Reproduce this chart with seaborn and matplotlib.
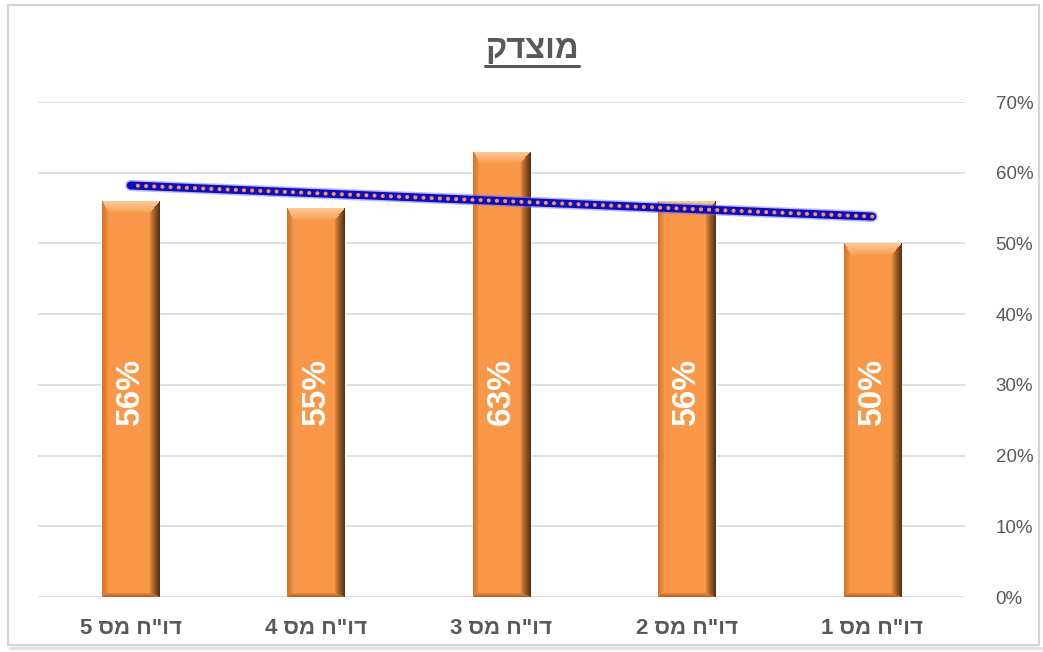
import numpy as np
import pandas as pd
import matplotlib
matplotlib.use("Agg")
import matplotlib.pyplot as plt
from matplotlib.patches import Rectangle
from matplotlib.lines import Line2D
import seaborn as sns

# ---- data -------------------------------------------------------------
title = "מוצדק"
reports = ['דו"ח מס 1', 'דו"ח מס 2', 'דו"ח מס 3', 'דו"ח מס 4', 'דו"ח מס 5']
report_no = [1, 2, 3, 4, 5]
share = [0.50, 0.56, 0.63, 0.55, 0.56]
y_ticks = [0.0, 0.1, 0.2, 0.3, 0.4, 0.5, 0.6, 0.7]


def visual(s):
    """Hebrew is written right-to-left; matplotlib lays glyphs out left-to-right."""
    return s[::-1]


df = pd.DataFrame({"report": [visual(r) for r in reports], "share": share})
# category axis runs right-to-left: report 1 on the right
order = [visual(r) for r in reports[::-1]]

sns.set_style("white")
plt.rcParams["font.family"] = ["Liberation Sans", "DejaVu Sans"]

W_PX, H_PX = 1043, 652
fig = plt.figure(figsize=(W_PX / 100, H_PX / 100), dpi=100)
ax = fig.add_axes([38 / W_PX, 1 - 597 / H_PX, (965 - 38) / W_PX, (597 - 102) / H_PX])

sns.barplot(data=df, x="report", y="share", order=order, color="#F79646",
            saturation=1, width=0.31, ax=ax, zorder=2, errorbar=None)

ax.set_xlim(-0.5, len(order) - 0.5)
ax.set_ylim(0, 0.7)

# ---- bevelled bar faces ----------------------------------------------
px_per_y = (597 - 102) / 0.7


def bevel_image(h, w):
    base = np.array([248, 152, 72]) / 255
    edges = np.array([
        [212, 116, 46],   # left
        [92, 50, 18],     # right
        [253, 200, 148],  # top
        [185, 98, 38],    # bottom
    ]) / 255
    widths = np.array([6.0, 10.0, 12.0, 4.0])
    r = np.arange(h)[:, None] * np.ones((1, w))
    c = np.ones((h, 1)) * np.arange(w)[None, :]
    d = np.stack([c, w - 1 - c, r, h - 1 - r]) / widths[:, None, None]
    idx = np.argmin(d, axis=0)
    strength = np.clip(1 - d.min(axis=0), 0, 1) ** 0.8
    img = base + (edges[idx] - base) * strength[..., None]
    return np.clip(img, 0, 1)


for patch in ax.patches:
    x0, w, h = patch.get_x(), patch.get_width(), patch.get_height()
    hp = max(int(round(h * px_per_y)), 4)
    wp = 57
    im = ax.imshow(bevel_image(hp, wp), extent=(x0, x0 + w, 0, h),
                   aspect="auto", zorder=2.5, interpolation="bilinear")
    im.set_clip_path(patch)

ax.set_xlim(-0.5, len(order) - 0.5)
ax.set_ylim(0, 0.7)

# ---- value labels ----------------------------------------------------
for r, v in zip(reports, share):
    pos = order.index(visual(r))
    ax.text(pos, 0.29, f"{v * 100:.0f}%", rotation=90, ha="center", va="center",
            color="white", fontsize=24, fontweight="bold", zorder=5)

# ---- linear trend line -----------------------------------------------
coef = np.polyfit(report_no, share, 1)
trend = np.polyval(coef, report_no)
tx = [order.index(visual(r)) for r in reports]
ax.plot(tx, trend, color="#6a6af2", lw=8.0, alpha=0.45, solid_capstyle="round", zorder=6)
ax.plot(tx, trend, color="#0c0cc4", lw=5.8, solid_capstyle="round", zorder=6)
ax.plot(tx, trend, color="#F79646", lw=3.0, linestyle=(0, (0.01, 1.95)),
        dash_capstyle="round", zorder=7)

# ---- axes styling ----------------------------------------------------
for s in ax.spines.values():
    s.set_visible(False)
ax.set_yticks(y_ticks)
ax.set_yticklabels([f"{t * 100:.0f}%" for t in y_ticks])
ax.yaxis.tick_right()
ax.yaxis.grid(True, color="#d9d9d9", lw=1.2)
ax.set_axisbelow(True)
ax.tick_params(axis="y", length=0, pad=22, labelsize=13.5, labelcolor="#595959")
ax.tick_params(axis="x", length=0, pad=15, labelsize=16, labelcolor="#595959")
for lab in ax.get_xticklabels():
    lab.set_fontweight("bold")
ax.set_xlabel("")
ax.set_ylabel("")

# ---- title with underline --------------------------------------------
t = fig.text(0.51, 1 - 50 / H_PX, visual(title), ha="center", va="center",
             fontsize=23.5, fontweight="bold", color="#595959")
fig.canvas.draw()
bb = t.get_window_extent()
uy = 1 - 66 / H_PX
fig.add_artist(Line2D([bb.x0 / W_PX, bb.x1 / W_PX], [uy, uy],
                      color="#595959", lw=2.2, transform=fig.transFigure))

# ---- chart frame -----------------------------------------------------
fig.add_artist(Rectangle((8 / W_PX, 1 - 645 / H_PX), (1039 - 8) / W_PX, (645 - 5) / H_PX,
                         transform=fig.transFigure, fill=False,
                         edgecolor="#d4d4d4", lw=1.6))
fig.add_artist(Line2D([10 / W_PX, 1041 / W_PX], [1 - 648 / H_PX] * 2,
                      transform=fig.transFigure, color="#e4e4e4", lw=2.5))

fig.savefig("out.png", dpi=100)
